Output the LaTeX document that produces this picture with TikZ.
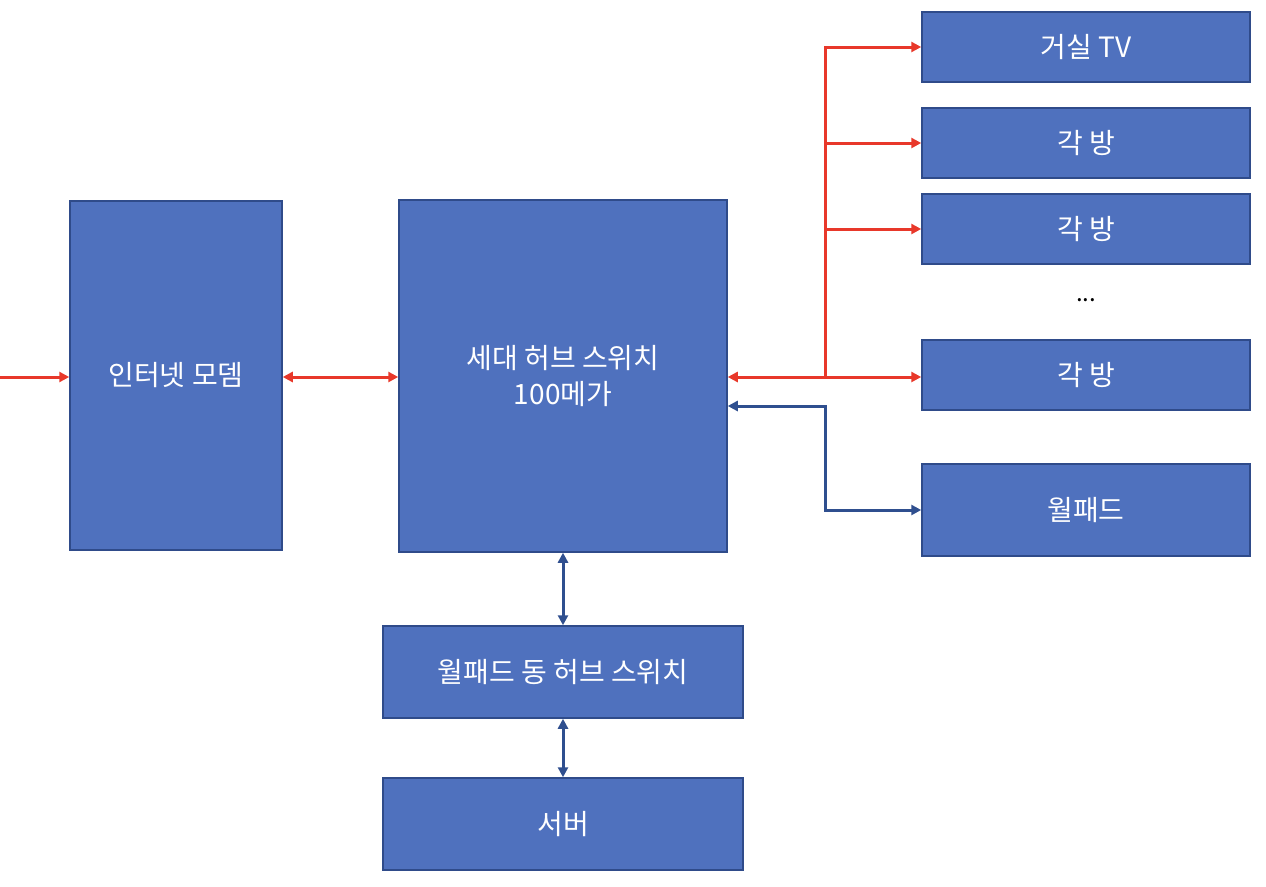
\documentclass[tikz,border=0pt]{standalone}
\usepackage{fontspec}
\setmainfont{Noto Sans CJK KR}
\usetikzlibrary{arrows.meta}
\definecolor{boxblue}{HTML}{4F71BE}
\definecolor{boxedge}{HTML}{2F4B8A}
\definecolor{linkred}{HTML}{E8382A}
\definecolor{linkblue}{HTML}{2F4F8F}
\tikzset{
  unit/.style={draw=boxedge, line width=1.5pt, fill=boxblue, text=white, font=\fontsize{28}{36}\selectfont, inner sep=0pt},
  redlink/.style={draw=linkred, line width=3pt, -{Triangle[length=10pt,width=10pt]}},
  bluelink/.style={draw=linkblue, line width=3pt, -{Triangle[length=10pt,width=10pt]}}
}
\begin{document}
\begin{tikzpicture}[x=1pt,y=-1pt]
\useasboundingbox (0,0) rectangle (1266,886);

\node [unit, minimum width=212pt, minimum height=349pt] (modem) at (176,375.5) {인터넷 모뎀};
\node [unit, minimum width=328pt, minimum height=352pt, align=center] (hub) at (563,376) {세대 허브 스위치\\100메가};
\node [unit, minimum width=328pt, minimum height=70pt] (tv) at (1086,47) {거실 TV};
\node [unit, minimum width=328pt, minimum height=70pt] (roomA) at (1086,143) {각 방};
\node [unit, minimum width=328pt, minimum height=70pt] (roomB) at (1086,229) {각 방};
\node [font=\fontsize{24}{30}\selectfont] (dots) at (1086,300) {...};
\node [unit, minimum width=328pt, minimum height=70pt] (roomC) at (1086,375) {각 방};
\node [unit, minimum width=328pt, minimum height=92pt] (wallpad) at (1086,510) {월패드};
\node [unit, minimum width=360pt, minimum height=92pt] (padhub) at (563,672) {월패드 동 허브 스위치};
\node [unit, minimum width=360pt, minimum height=92pt] (server) at (563,824) {서버};

\coordinate (inlet) at (0,377);
\coordinate (trunk) at (825,377);
\coordinate (turn) at (825,406);

% red links
\draw [redlink] (inlet) -- (modem.west |- 0,377);
\draw [redlink, {Triangle[length=10pt,width=10pt]}-{Triangle[length=10pt,width=10pt]}] (modem.east |- 0,377) -- (hub.west |- 0,377);
\draw [redlink] (trunk) -- (hub.east |- trunk);
\draw [redlink] (trunk) |- (tv.west);
\draw [redlink] (trunk |- roomA) -- (roomA.west);
\draw [redlink] (trunk |- roomB) -- (roomB.west);
\draw [redlink] (trunk) -- (roomC.west |- trunk);

% blue links
\draw [bluelink, {Triangle[length=10pt,width=10pt]}-{Triangle[length=10pt,width=10pt]}] (hub.east |- turn) -- (turn) |- (wallpad.west);
\draw [bluelink, {Triangle[length=10pt,width=10pt]}-{Triangle[length=10pt,width=10pt]}] (hub.south) -- (padhub.north);
\draw [bluelink, {Triangle[length=10pt,width=10pt]}-{Triangle[length=10pt,width=10pt]}] (padhub.south) -- (server.north);

\end{tikzpicture}
\end{document}
